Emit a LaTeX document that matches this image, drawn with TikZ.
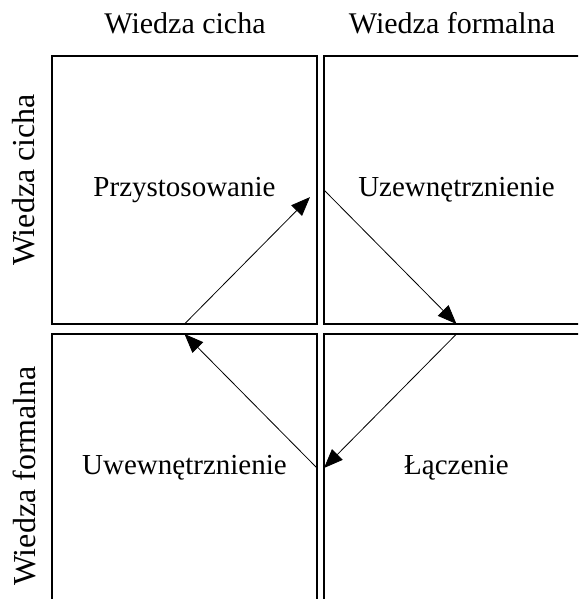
\documentclass[tikz,border=0pt]{standalone}
\usepackage{fontspec}
\setmainfont{Liberation Serif}
\usetikzlibrary{arrows.meta, positioning}

\begin{document}
\begin{tikzpicture}[x=1pt, y=-1pt,
  every node/.style={font=\fontsize{29}{34}\selectfont},
  cell/.style={rectangle, draw, line width=1.3pt, minimum width=265pt, minimum height=268pt, inner sep=0pt, outer sep=0pt},
  head/.style={font=\fontsize{30}{36}\selectfont},
  side/.style={font=\fontsize{32}{38}\selectfont, rotate=90},
  flow/.style={-{Triangle[length=19pt, width=15pt]}, line width=0.8pt},
]
\useasboundingbox (0,0) rectangle (578,599);
\clip (0,0) rectangle (578,599);
% four quadrants
\node[cell] (tl) at (184.5,190) {Przystosowanie};
\node[cell] (tr) at (456.5,190) {Uzewnętrznienie};
\node[cell] (bl) at (184.5,468) {Uwewnętrznienie};
\node[cell] (br) at (456.5,468) {Łączenie};
% column and row headings
\node[head] (colA) at (185,23) {Wiedza cicha};
\node[head] (colB) at (452,23) {Wiedza formalna};
\node[side] (rowA) at (24,180) {Wiedza cicha};
\node[side] (rowB) at (24,476) {Wiedza formalna};
% knowledge spiral
\draw[flow] (tr.west)--(tr.south);
\draw[flow] (br.north)--(br.west);
\draw[flow] (bl.east)--(bl.north);
\draw[flow, shorten >=10pt] (tl.south)--(tl.east);
\end{tikzpicture}
\end{document}
